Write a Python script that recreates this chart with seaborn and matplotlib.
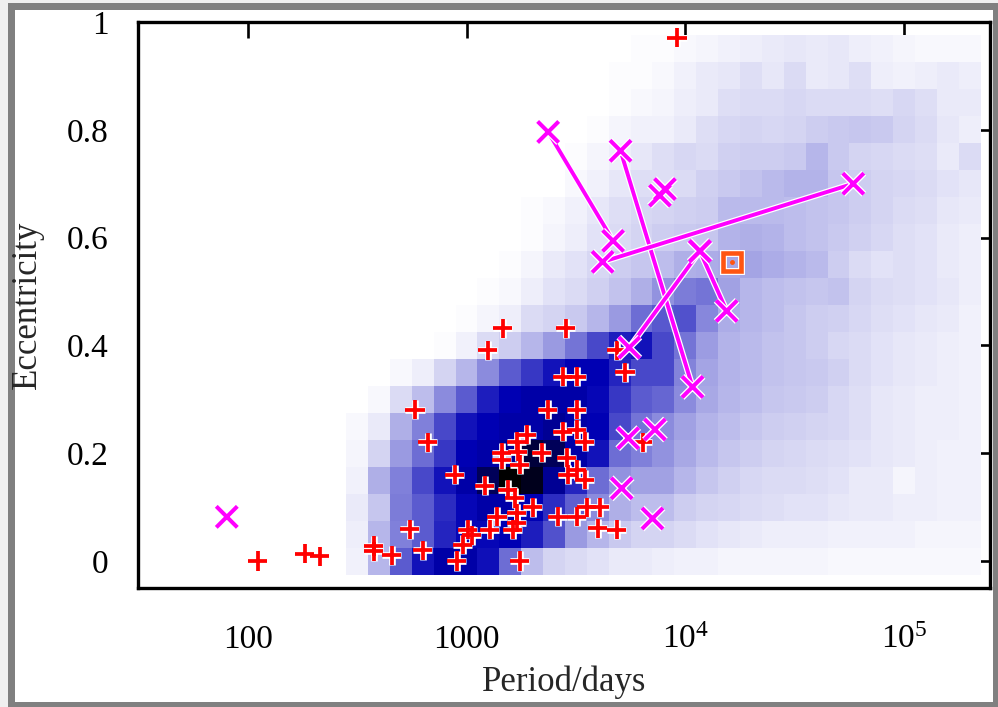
import numpy as np
import pandas as pd
import matplotlib
matplotlib.use("Agg")
import matplotlib.pyplot as plt
import matplotlib.patheffects as pe
from matplotlib.colors import LinearSegmentedColormap
from matplotlib.patches import Rectangle
from matplotlib.ticker import NullLocator
import seaborn as sns

sns.set_theme(style="white")
plt.rcParams["font.family"] = ["Liberation Serif", "DejaVu Serif"]
plt.rcParams["mathtext.fontset"] = "custom"
plt.rcParams["mathtext.rm"] = "Liberation Serif"
plt.rcParams["mathtext.it"] = "Liberation Serif:italic"

# histogram bins: centres in log10(period) and in eccentricity
logp_centres = [2.5, 2.6, 2.7, 2.8, 2.9, 3.0, 3.1, 3.2, 3.3, 3.4, 3.5, 3.6, 3.7, 3.8, 3.9,
                4.0, 4.1, 4.2, 4.3, 4.4, 4.5, 4.6, 4.7, 4.8, 4.9, 5.0, 5.1, 5.2, 5.3]
ecc_centres = [0.00, 0.05, 0.10, 0.15, 0.20, 0.25, 0.30, 0.35, 0.40, 0.45,
               0.50, 0.55, 0.60, 0.65, 0.70, 0.75, 0.80, 0.85, 0.90, 0.95]

# simulated density, one row per eccentricity bin (bottom row first)
density = [
    [4, 20, 45, 65, 72, 72, 66, 40, 18, 12, 10, 8, 6, 6, 5, 4, 4, 3, 3, 3, 3, 3, 2, 2, 2, 2, 2, 2, 2],
    [5, 20, 35, 45, 60, 68, 68, 70, 62, 48, 28, 20, 15, 12, 12, 10, 8, 7, 6, 5, 5, 5, 4, 4, 4, 4, 3, 3, 3],
    [6, 16, 36, 45, 58, 68, 72, 72, 70, 58, 44, 32, 22, 18, 18, 14, 12, 11, 10, 9, 8, 8, 7, 6, 6, 5, 5, 4, 4],
    [4, 22, 35, 50, 65, 72, 85, 100, 95, 75, 60, 40, 30, 26, 26, 20, 16, 13, 11, 10, 10, 9, 8, 6, 6, 3, 5, 4, 4],
    [3, 12, 28, 40, 55, 70, 72, 75, 90, 85, 72, 65, 40, 35, 30, 24, 19, 16, 14, 12, 11, 10, 9, 8, 7, 6, 5, 4, 4],
    [2, 6, 22, 35, 50, 65, 70, 72, 72, 75, 72, 70, 50, 38, 32, 26, 21, 18, 16, 14, 13, 12, 11, 9, 7, 6, 5, 5, 4],
    [0, 2, 10, 18, 32, 45, 62, 70, 72, 72, 72, 68, 55, 45, 42, 32, 24, 20, 18, 16, 15, 14, 11, 9, 7, 6, 5, 5, 4],
    [0, 0, 2, 5, 12, 20, 32, 45, 55, 65, 70, 70, 60, 50, 50, 34, 25, 21, 19, 17, 16, 15, 13, 10, 8, 7, 6, 5, 4],
    [0, 0, 0, 0, 1, 4, 10, 14, 20, 28, 38, 50, 62, 65, 50, 38, 27, 21, 19, 17, 16, 14, 11, 10, 8, 7, 6, 5, 4],
    [0, 0, 0, 0, 0, 1, 3, 5, 10, 12, 15, 20, 28, 40, 46, 48, 33, 23, 20, 18, 16, 14, 13, 11, 9, 8, 7, 6, 4],
    [0, 0, 0, 0, 0, 0, 1, 2, 5, 8, 10, 13, 17, 22, 30, 36, 38, 26, 20, 18, 17, 16, 17, 12, 10, 9, 8, 7, 5],
    [0, 0, 0, 0, 0, 0, 0, 1, 3, 6, 8, 11, 14, 16, 18, 22, 23, 24, 25, 23, 21, 19, 14, 10, 8, 9, 8, 6, 5],
    [0, 0, 0, 0, 0, 0, 0, 0, 1, 3, 5, 8, 10, 12, 14, 15, 16, 21, 22, 21, 18, 17, 15, 13, 11, 9, 8, 6, 5],
    [0, 0, 0, 0, 0, 0, 0, 0, 1, 2, 4, 7, 9, 11, 12, 13, 14, 19, 19, 19, 18, 17, 16, 14, 12, 10, 9, 7, 6],
    [0, 0, 0, 0, 0, 0, 0, 0, 0, 0, 2, 4, 7, 9, 9, 10, 13, 15, 17, 19, 21, 21, 16, 14, 12, 11, 10, 8, 7],
    [0, 0, 0, 0, 0, 0, 0, 0, 0, 0, 1, 3, 5, 7, 9, 11, 10, 13, 14, 14, 15, 20, 15, 12, 11, 10, 9, 6, 10],
    [0, 0, 0, 0, 0, 0, 0, 0, 0, 0, 0, 1, 3, 4, 4, 6, 9, 11, 12, 11, 12, 14, 15, 16, 15, 12, 10, 7, 5],
    [0, 0, 0, 0, 0, 0, 0, 0, 0, 0, 0, 0, 1, 2, 3, 5, 6, 9, 10, 10, 11, 10, 10, 10, 9, 11, 9, 6, 6],
    [0, 0, 0, 0, 0, 0, 0, 0, 0, 0, 0, 0, 1, 1, 2, 4, 6, 7, 9, 7, 10, 6, 7, 9, 5, 4, 5, 6, 5],
    [0, 0, 0, 0, 0, 0, 0, 0, 0, 0, 0, 0, 0, 1, 1, 2, 3, 4, 5, 6, 7, 6, 7, 5, 4, 3, 2, 2, 2],
]

# observed systems (red plus)
plus_period = [111, 182, 213, 377, 377, 454, 551, 581, 631, 665, 884, 903, 962, 1014,
               1057, 1213, 1250, 1279, 1377, 1449, 1449, 1465, 1545, 1629, 1664, 1698,
               1698, 1698, 1717, 1754, 1754, 1888, 2010, 2208, 2355, 2612, 2754, 2754,
               2844, 2875, 2906, 3191, 3191, 3191, 3191, 3191, 3474, 3474, 3548, 3984,
               4067, 4865, 4865, 5297, 6396, 9158]
plus_ecc = [0.00, 0.014, 0.009, 0.028, 0.018, 0.011, 0.059, 0.281, 0.020, 0.220, 0.160,
            0.00, 0.030, 0.058, 0.048, 0.140, 0.391, 0.058, 0.082, 0.201, 0.188, 0.432,
            0.132, 0.058, 0.117, 0.221, 0.089, 0.071, 0.203, 0.179, 0.00, 0.234, 0.100,
            0.201, 0.281, 0.082, 0.342, 0.240, 0.432, 0.192, 0.160, 0.342, 0.281, 0.244,
            0.169, 0.082, 0.221, 0.151, 0.100, 0.061, 0.100, 0.391, 0.058, 0.350, 0.220,
            0.971]

# magenta crosses without a partner
cross_period = [80.2, 5484, 7261, 5118, 7079, 7656, 8072]
cross_ecc = [0.082, 0.228, 0.244, 0.135, 0.079, 0.678, 0.690]

# magenta pairs joined by a line: (P1, e1) -> (P2, e2)
pairs_p1 = [2361, 5058, 58600, 11665, 11665]
pairs_e1 = [0.796, 0.761, 0.700, 0.575, 0.575]
pairs_p2 = [4677, 10790, 4188, 15450, 5546]
pairs_e2 = [0.594, 0.323, 0.555, 0.464, 0.396]

# orange square
square_period = [16370]
square_ecc = [0.555]

cells = pd.DataFrame(
    [(10 ** lp, e, density[i][j])
     for i, e in enumerate(ecc_centres)
     for j, lp in enumerate(logp_centres)],
    columns=["period", "ecc", "weight"],
)

cmap = LinearSegmentedColormap.from_list(
    "wbk", [(0.0, "#ffffff"), (0.7, "#0000b4"), (1.0, "#000000")])

fig = plt.figure(figsize=(9.98, 7.07), dpi=100, facecolor="#f0f0f0")
W, H = 998, 707
fig.patches.append(Rectangle((8 / W, 0), 1, (H - 3) / H, transform=fig.transFigure,
                             facecolor="#808080", edgecolor="none", zorder=-3))
fig.patches.append(Rectangle((15 / W, 5 / H), (993 - 15) / W, (702 - 10) / H,
                             transform=fig.transFigure, facecolor="white",
                             edgecolor="none", zorder=-2))

ax = fig.add_axes([138 / W, (H - 588) / H, (990 - 138) / W, (588 - 22) / H])
ax.set_facecolor("white")

sns.histplot(data=cells, x="period", y="ecc", weights="weight",
             bins=(29, 20), binrange=((2.45, 5.35), (-0.025, 0.975)),
             log_scale=(True, False), cmap=cmap, vmin=0, vmax=100,
             ax=ax, zorder=1)

white_edge = [pe.Stroke(linewidth=4.8, foreground="white"), pe.Normal()]

for p1, e1, p2, e2 in zip(pairs_p1, pairs_e1, pairs_p2, pairs_e2):
    ax.plot([p1, p2], [e1, e2], color="#ff00ff", lw=2.8, zorder=3,
            path_effects=[pe.Stroke(linewidth=4.6, foreground="white"), pe.Normal()],
            solid_capstyle="butt")

sns.scatterplot(x=plus_period, y=plus_ecc, marker="+", s=190, color="#ff0000",
                linewidth=2.7, ax=ax, zorder=4)
ax.collections[-1].set_path_effects(white_edge)

sns.scatterplot(x=cross_period + pairs_p1 + pairs_p2, y=cross_ecc + pairs_e1 + pairs_e2,
                marker="x", s=230, color="#ff00ff", linewidth=2.9, ax=ax, zorder=5)
ax.collections[-1].set_path_effects(white_edge)

ax.plot(square_period, square_ecc, marker="s", ms=13, mfc="none", mec="#ff5511",
        mew=3.3, ls="none", zorder=6,
        path_effects=[pe.Stroke(linewidth=5, foreground="white"), pe.Normal()])
ax.plot(square_period, square_ecc, marker="o", ms=2.5, color="#ff5511", ls="none", zorder=6)

ax.set_xlim(31.5, 247000)
ax.set_ylim(-0.05, 1.0)
ax.set_xticks([100, 1000, 1e4, 1e5])
ax.set_xticklabels(["100", "1000", r"$\mathregular{10^4}$", r"$\mathregular{10^5}$"],
                   va="baseline")
ax.xaxis.set_minor_locator(NullLocator())
ax.set_yticks([0, 0.2, 0.4, 0.6, 0.8, 1.0])
ax.set_yticklabels(["0", "0.2", "0.4", "0.6", "0.8", "1"])
ax.tick_params(which="major", direction="in", length=11.5, width=1.9, top=True,
               right=True, labelsize=24, colors="black")
ax.tick_params(axis="x", pad=43)
ax.tick_params(axis="y", pad=21)
for s in ax.spines.values():
    s.set_color("black")
    s.set_linewidth(2.4)
    s.set_zorder(10)

ax.set_xlabel("Period/days", fontsize=25, va="center")
ax.set_ylabel("Eccentricity", fontsize=25, va="center")
ax.xaxis.set_label_coords(0.5, -0.166)
ax.yaxis.set_label_coords(-0.130, 0.5)
ax.grid(False)

fig.savefig("out.png", dpi=100, facecolor=fig.get_facecolor())
